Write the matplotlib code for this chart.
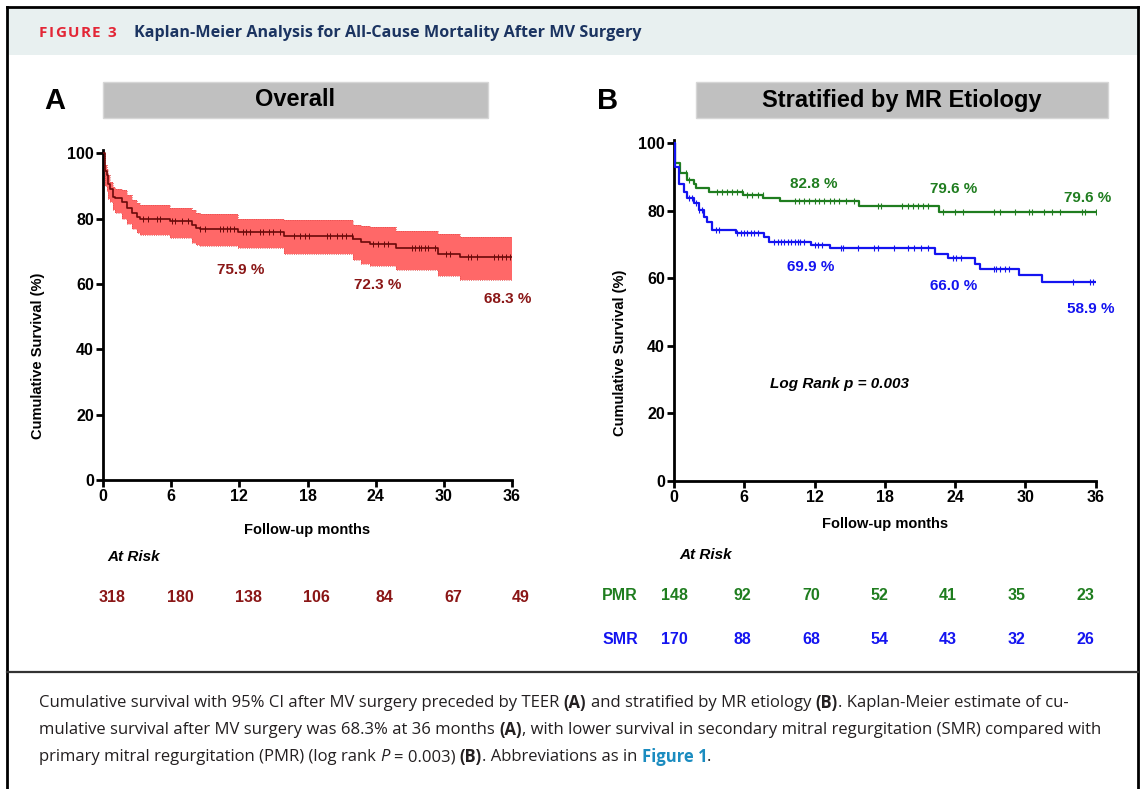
import numpy as np
import matplotlib
matplotlib.use('Agg')
import matplotlib.pyplot as plt
from matplotlib import transforms
from matplotlib.patches import Rectangle
from matplotlib.lines import Line2D

# ---------------- data ----------------
month_ticks = [0, 6, 12, 18, 24, 30, 36]
surv_ticks = [0, 20, 40, 60, 80, 100]

# Panel A : overall Kaplan-Meier with 95% CI
a_time = [0, 0.18, 0.33, 0.47, 0.62, 0.91, 1.06, 1.64, 2.08, 2.52, 2.96, 3.26,
          5.9, 7.8, 8.2, 8.5, 11.9, 15.9, 22.0, 22.7, 23.5, 25.8, 29.5, 31.4, 36.0]
a_surv = [100, 94.5, 93.3, 90.5, 89.2, 86.6, 86.2, 85.2, 83.1, 81.6, 80.5, 80.0,
          79.2, 78.0, 77.2, 76.8, 75.9, 74.6, 73.9, 72.8, 72.3, 70.9, 69.3, 68.3, 68.3]
a_upper = [100, 96.5, 95.3, 93.5, 91.2, 89.6, 89.2, 88.7, 87.1, 85.6, 84.8, 84.1,
           83.4, 82.6, 81.8, 81.5, 80.0, 79.5, 78.0, 77.6, 77.5, 76.1, 75.2, 74.4, 74.4]
a_lower = [100, 90.0, 88.5, 86.0, 85.0, 82.5, 81.8, 80.0, 78.5, 76.9, 75.5, 74.9,
           74.2, 72.4, 71.9, 71.6, 70.9, 69.1, 67.3, 66.0, 65.5, 64.2, 62.5, 61.2, 61.2]
a_censor = [3.55, 3.99, 4.72, 5.02, 6.04, 6.34, 6.92, 7.51, 8.54, 8.98, 10.3, 10.6,
            10.9, 11.2, 11.5, 12.3, 12.6, 12.9, 13.8, 14.1, 14.6, 15.0, 15.6, 16.8,
            17.3, 17.8, 18.1, 19.7, 20.0, 20.6, 21.0, 21.4, 21.9, 23.8, 24.2, 24.7,
            25.1, 27.2, 27.5, 27.8, 28.0, 28.3, 28.6, 29.2, 30.2, 30.5, 32.1, 32.4,
            32.9, 34.4, 34.8, 35.1, 35.5, 35.8]
a_mark_months = [12, 24, 36]
a_mark_values = [75.9, 72.3, 68.3]
a_at_risk = [318, 180, 138, 106, 84, 67, 49]

# Panel B : stratified by MR etiology
pmr_time = [0, 0.09, 0.5, 1.1, 1.7, 1.84, 3.0, 5.93, 7.64, 9.07, 15.8, 22.6, 36.0]
pmr_surv = [100, 94.1, 91.1, 89.1, 88.1, 86.7, 85.7, 84.7, 83.7, 82.8, 81.4, 79.6, 79.6]
pmr_censor = [1.0, 1.27, 3.7, 4.1, 4.56, 4.99, 5.41, 5.84, 6.27, 6.7, 7.13, 7.56,
              10.3, 10.7, 11.1, 11.5, 12.0, 12.4, 12.8, 13.3, 13.7, 14.1, 14.7,
              15.4, 17.4, 17.7, 19.5, 20.0, 20.4, 20.8, 21.3, 21.7, 23.0, 24.0,
              24.7, 27.3, 27.8, 29.1, 30.3, 30.6, 31.6, 32.3, 33.0, 34.8, 35.1, 36.0]
smr_time = [0, 0.1, 0.4, 0.84, 1.13, 1.7, 2.13, 2.56, 2.84, 3.27, 5.3, 7.7, 8.1,
            11.7, 13.3, 22.3, 23.4, 25.7, 26.1, 29.5, 31.4, 36.0]
smr_surv = [100, 93.1, 88.1, 85.7, 83.7, 82.2, 80.2, 78.2, 76.7, 74.4, 73.4, 72.4,
            70.9, 69.9, 69.0, 67.3, 66.0, 64.4, 62.9, 60.9, 58.9, 58.9]
smr_censor = [1.27, 1.56, 1.84, 2.13, 2.41, 3.56, 3.84, 5.41, 5.7, 5.98, 6.27, 6.56,
              6.84, 7.13, 8.56, 8.84, 9.13, 9.41, 9.7, 9.98, 10.3, 10.6, 10.8, 11.1,
              12.0, 12.3, 12.6, 14.3, 14.4, 15.7, 17.1, 17.4, 18.8, 20.0, 20.5, 21.1,
              21.7, 23.8, 24.1, 24.5, 27.3, 27.5, 27.8, 28.3, 28.6, 34.1, 35.5, 35.8]
pmr_mark_values = [82.8, 79.6, 79.6]
smr_mark_values = [69.9, 66.0, 58.9]
pmr_at_risk = [148, 92, 70, 52, 41, 35, 23]
smr_at_risk = [170, 88, 68, 54, 43, 32, 26]

# ---------------- figure ----------------
W, H = 1142, 789
fig = plt.figure(figsize=(W / 100, H / 100), dpi=100)
fig.patch.set_facecolor('white')

CHART_FONT = ['Liberation Sans', 'DejaVu Sans']
PAGE_FONT = ['Open Sans', 'DejaVu Sans']

RED_DARK = '#8a1616'
GREEN = '#1f7d1f'
BLUE = '#1414f0'


def fx(px):
    return px / W


def fy(py):
    return 1 - py / H


def step_value(times, values, t):
    i = np.searchsorted(times, t, side='right') - 1
    return np.asarray(values)[np.clip(i, 0, len(values) - 1)]


# frame, header band, separator
fig.add_artist(Rectangle((fx(8), fy(55)), fx(1130), 46 / H, facecolor='#e8f0f0',
                         edgecolor='none', transform=fig.transFigure))
for xs, ys in [([7, 7], [7, 789]), ([7, 1138], [7, 7]), ([1138, 1138], [7, 789])]:
    fig.add_artist(Line2D([fx(x) for x in xs], [fy(y) for y in ys], color='black',
                          lw=2.0, transform=fig.transFigure))
fig.add_artist(Line2D([fx(7), fx(1138)], [fy(672), fy(672)], color='#333333',
                      lw=1.6, transform=fig.transFigure))

renderer = fig.canvas.get_renderer()


def draw_runs(x_px, y_px, runs, size, color='#231f20'):
    # place text pieces one after another on a single line
    x = x_px
    space = size * 0.26 * 100 / 72
    for txt, kw in runs:
        if txt.startswith(' '):
            x += space
        core = txt.strip()
        if core:
            style = dict(fontsize=size, color=color, family=PAGE_FONT)
            style.update(kw)
            t = fig.text(fx(x), fy(y_px), core, ha='left', va='center', **style)
            x += t.get_window_extent(renderer=renderer).width
        if txt.endswith(' ') and core:
            x += space


# header title, "FIGURE 3" with letter spacing
x = 39
for ch in 'FIGURE 3':
    if ch == ' ':
        x += 6
        continue
    t = fig.text(fx(x), fy(33), ch, ha='left', va='center', fontsize=11,
                 fontweight='bold', color='#e32636', family=PAGE_FONT)
    x += t.get_window_extent(renderer=renderer).width + 1.3
fig.text(fx(134), fy(33), 'Kaplan-Meier Analysis for All-Cause Mortality After MV Surgery',
         ha='left', va='center', fontsize=11.6, fontweight='bold', color='#1b3461',
         family=PAGE_FONT)

# caption
B = dict(fontweight='bold')
CAP = 12
draw_runs(39, 703, [
    ('Cumulative survival with 95% CI after MV surgery preceded by TEER ', {}),
    ('(A)', B),
    (' and stratified by MR etiology ', {}),
    ('(B)', B),
    ('. Kaplan-Meier estimate of cu-', {}),
], CAP)
draw_runs(39, 730, [
    ('mulative survival after MV surgery was 68.3% at 36 months ', {}),
    ('(A)', B),
    (', with lower survival in secondary mitral regurgitation (SMR) compared with', {}),
], CAP)
draw_runs(39, 757, [
    ('primary mitral regurgitation (PMR) (log rank ', {}),
    ('P', dict(fontstyle='italic')),
    (' = 0.003) ', {}),
    ('(B)', B),
    ('. Abbreviations as in ', {}),
    ('Figure 1', dict(fontweight='bold', color='#1b8cc0')),
    ('.', {}),
], CAP)

# panel letters and title boxes
for letter, lx in [('A', 55), ('B', 608)]:
    fig.text(fx(lx), fy(101), letter, ha='center', va='center', fontsize=21,
             fontweight='bold', family=CHART_FONT)
for title, x0, x1 in [('Overall', 103, 488), ('Stratified by MR Etiology', 696, 1108)]:
    fig.add_artist(Rectangle((fx(x0), fy(118)), fx(x1 - x0), 36 / H,
                             facecolor='#c0c0c0', edgecolor='#d6d6d6', lw=1,
                             transform=fig.transFigure))
    fig.text(fx((x0 + x1) / 2), fy(100), title, ha='center', va='center',
             fontsize=17, fontweight='bold', family=CHART_FONT)

# axes
axA = fig.add_axes([fx(103), fy(480), fx(409), 330 / H])
axB = fig.add_axes([fx(674), fy(481), fx(421.6), 341 / H])


def style_axes(ax, ylab_x, xlab_y):
    ax.set_xlim(0, 36)
    ax.set_ylim(0, 101)
    ax.set_xticks(month_ticks)
    ax.set_yticks(surv_ticks)
    for s in ['top', 'right']:
        ax.spines[s].set_visible(False)
    for s in ['left', 'bottom']:
        ax.spines[s].set_linewidth(2.0)
    ax.tick_params(direction='out', length=5, width=2, labelsize=11.5, pad=1.5)
    for lab in ax.get_xticklabels() + ax.get_yticklabels():
        lab.set_fontweight('bold')
        lab.set_family(CHART_FONT)
    ax.set_ylabel('Cumulative Survival (%)', fontsize=10.5, fontweight='bold',
                  family=CHART_FONT)
    ax.set_xlabel('Follow-up months', fontsize=10.5, fontweight='bold',
                  family=CHART_FONT)
    ax.yaxis.set_label_coords(ylab_x, 0.375)
    ax.xaxis.set_label_coords(0.5, xlab_y)
    ax.xaxis.label.set_va('center')
    ax.yaxis.label.set_va('center')
    ax.patch.set_alpha(0)


style_axes(axA, -0.159, -0.152)
style_axes(axB, -0.128, -0.127)

# ---- panel A curve ----
axA.fill_between(a_time, a_lower, a_upper, step='post', color='#ff6868', lw=0, zorder=1)
axA.step(a_time, a_upper, where='post', color='#e04848', lw=0.6, ls=':', zorder=1.5)
axA.step(a_time, a_lower, where='post', color='#e04848', lw=0.6, ls=':', zorder=1.5)
axA.step(a_time, a_surv, where='post', color='#6a0a0a', lw=1.2, zorder=3)
axA.plot(a_censor, step_value(a_time, a_surv, a_censor), ls='none', marker='|',
         ms=4, mew=0.7, color='#6a0a0a', zorder=3)
for m, v, dx, dy in zip(a_mark_months, a_mark_values, [0.1, 0.2, -0.4], [-11.7, -12.7, -13.0]):
    axA.text(m + dx, v + dy, f'{v:.1f} %', ha='center', va='center', fontsize=11,
             fontweight='bold', color=RED_DARK, family=CHART_FONT)

# ---- panel B curves ----
for t, s, c, col in [(pmr_time, pmr_surv, pmr_censor, GREEN),
                     (smr_time, smr_surv, smr_censor, BLUE)]:
    axB.step(t, s, where='post', color=col, lw=1.6, zorder=3)
    axB.plot(c, step_value(t, s, c), ls='none', marker='|', ms=5, mew=0.8,
             color=col, zorder=3)
for m, v, dx, dy in zip(a_mark_months, pmr_mark_values, [-0.1, -0.1, -0.7], [5.3, 6.8, 4.1]):
    axB.text(m + dx, v + dy, f'{v:.1f} %', ha='center', va='center', fontsize=11,
             fontweight='bold', color=GREEN, family=CHART_FONT)
for m, v, dx, dy in zip(a_mark_months, smr_mark_values, [-0.3, -0.1, -0.4], [-6.5, -8.3, -8.1]):
    axB.text(m + dx, v + dy, f'{v:.1f} %', ha='center', va='center', fontsize=11,
             fontweight='bold', color=BLUE, family=CHART_FONT)
axB.text(8.2, 28.7, 'Log Rank p = 0.003', ha='left', va='center', fontsize=11,
         fontweight='bold', fontstyle='italic', family=CHART_FONT)

# ---- at-risk tables ----
trA = transforms.blended_transform_factory(axA.transData, fig.transFigure)
trB = transforms.blended_transform_factory(axB.transData, fig.transFigure)
fig.text(fx(134), fy(557), 'At Risk', ha='center', va='center', fontsize=11,
         fontweight='bold', fontstyle='italic', family=CHART_FONT)
for m, n in zip(month_ticks, a_at_risk):
    axA.text(m + 0.8, fy(598), str(n), transform=trA, ha='center', va='center',
             fontsize=11.5, fontweight='bold', color=RED_DARK, family=CHART_FONT)

fig.text(fx(706), fy(555), 'At Risk', ha='center', va='center', fontsize=11,
         fontweight='bold', fontstyle='italic', family=CHART_FONT)
for label, counts, col, ry in [('PMR', pmr_at_risk, GREEN, 596),
                               ('SMR', smr_at_risk, BLUE, 639)]:
    fig.text(fx(620), fy(ry), label, ha='center', va='center', fontsize=11.5,
             fontweight='bold', color=col, family=CHART_FONT)
    for i, (m, n) in enumerate(zip(month_ticks, counts)):
        axB.text(m - 0.15 * i, fy(ry), str(n), transform=trB, ha='center', va='center',
                 fontsize=11.5, fontweight='bold', color=col, family=CHART_FONT)

fig.savefig('out.png', dpi=100)
